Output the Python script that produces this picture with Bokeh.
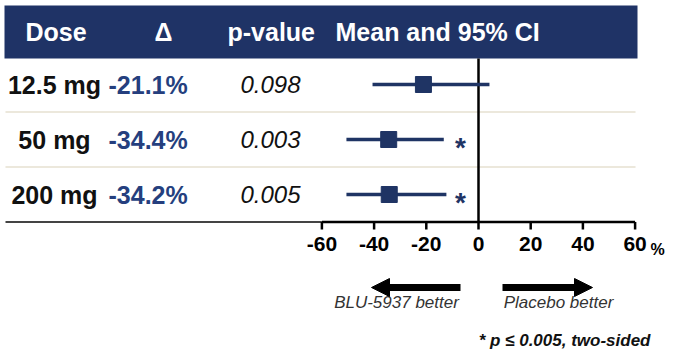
from bokeh.plotting import figure
from bokeh.models import Range1d, Arrow, NormalHead
from bokeh.core.properties import value
from bokeh.embed import file_html
from bokeh.resources import INLINE

# ---------------- data ----------------
doses = ["12.5 mg", "50 mg", "200 mg"]
delta_labels = ["-21.1%", "-34.4%", "-34.2%"]
p_labels = ["0.098", "0.003", "0.005"]
means = [-21.1, -34.4, -34.2]
ci_low = [-40.6, -50.6, -50.6]
ci_high = [4.2, -13.3, -12.3]
significant = [False, True, True]
ticks = [-60, -40, -20, 0, 20, 40, 60]
headers = ["Dose", "Δ", "p-value", "Mean and 95% CI"]
footnote = "* p ≤ 0.005, two-sided"
arrow_labels = ["BLU-5937 better", "Placebo better"]

# ---------------- layout helpers ----------------
W, H = 665, 354
PX_PER_UNIT = 2.61      # pixels per % unit
ZERO_PX = 478           # x of the 0 line
ROW0_PX = 84            # y of first row centre
ROW_STEP = 55           # pixels between rows


def X(px):
    return (px - ZERO_PX) / PX_PER_UNIT


def Y(py):
    return (py - ROW0_PX) / ROW_STEP


FONT = value("Liberation Sans")
NAVY = "#1f3366"
MARK = "#1f3464"
DELTA = "#253f7e"

rows = list(range(len(doses)))

p = figure(width=W, height=H, output_backend="svg", toolbar_location=None,
           x_range=Range1d(X(0), X(W)),
           y_range=Range1d(Y(H), Y(0)),
           x_axis_location=None, y_axis_location=None, min_border=0)
p.grid.visible = False
p.outline_line_color = None
p.background_fill_color = "white"
p.border_fill_color = "white"

# header band
p.quad(left=[X(4)], right=[X(637)], top=[Y(5)], bottom=[Y(58)],
       fill_color=NAVY, line_color=None)
hx = [X(25), X(154), X(227), X(335)]
p.text(x=hx, y=[Y(31)] * 4, text=headers, text_font=FONT,
       text_font_style="bold", text_font_size="25px", text_color="white",
       text_align="left", text_baseline="middle")

# row separators
sep_y = [r + 0.5 for r in rows[:-1]]
p.segment(x0=[X(5)] * len(sep_y), x1=[X(635)] * len(sep_y), y0=sep_y, y1=sep_y,
          line_color="#ece8dc", line_width=2)
base_y = rows[-1] + 0.5
p.segment(x0=[X(5)], x1=[ticks[0]], y0=[base_y], y1=[base_y],
          line_color="#444444", line_width=2)

# zero line
p.segment(x0=[0], x1=[0], y0=[Y(58)], y1=[base_y], line_color="black", line_width=2.5)

# axis
p.segment(x0=[ticks[0]], x1=[ticks[-1]], y0=[base_y], y1=[base_y],
          line_color="black", line_width=2.5)
p.segment(x0=ticks, x1=ticks, y0=[base_y] * len(ticks), y1=[Y(229)] * len(ticks),
          line_color="black", line_width=2.5)
p.text(x=ticks, y=[Y(243.5)] * len(ticks), text=[str(t) for t in ticks], text_font=FONT,
       text_font_style="bold", text_font_size="21px", text_color="black",
       text_align="center", text_baseline="middle")
p.text(x=[X(650)], y=[Y(248.5)], text=["%"], text_font=FONT,
       text_font_style="bold", text_font_size="16px", text_color="black",
       text_align="left", text_baseline="middle")

# table text
text_off = 0 / ROW_STEP
ty = [r + text_off for r in rows]
p.text(x=[X(54)] * 3, y=ty, text=doses, text_font=FONT, text_font_style="bold",
       text_font_size="25px", text_color="#111111", text_align="center",
       text_baseline="middle")
p.text(x=[X(108)] * 3, y=ty, text=delta_labels, text_font=FONT, text_font_style="bold",
       text_font_size="25px", text_color=DELTA, text_align="left",
       text_baseline="middle")
p.text(x=[X(270)] * 3, y=ty, text=p_labels, text_font=FONT, text_font_style="italic",
       text_font_size="24px", text_color="#111111", text_align="center",
       text_baseline="middle")

# forest marks
p.segment(x0=ci_low, x1=ci_high, y0=rows, y1=rows, line_color=MARK, line_width=3.5)
p.scatter(x=means, y=rows, marker="square", size=16, fill_color=MARK, line_color=MARK)

sig_rows = [r for r, s in zip(rows, significant) if s]
p.text(x=[X(460)] * len(sig_rows), y=[r + 7.5 / ROW_STEP for r in sig_rows],
       text=["*"] * len(sig_rows), text_font=FONT, text_font_style="bold",
       text_font_size="28px", text_color=MARK, text_align="center",
       text_baseline="middle")

# direction arrows
ay = Y(287)
p.add_layout(Arrow(end=NormalHead(size=18, fill_color="black", line_color="black"),
                   x_start=X(460), y_start=ay, x_end=X(371), y_end=ay,
                   line_width=7, line_color="black"))
p.add_layout(Arrow(end=NormalHead(size=18, fill_color="black", line_color="black"),
                   x_start=X(502), y_start=ay, x_end=X(592), y_end=ay,
                   line_width=7, line_color="black"))
p.text(x=[X(396), X(558)], y=[Y(302)] * 2, text=arrow_labels, text_font=FONT,
       text_font_style="italic", text_font_size="17px", text_color="#333333",
       text_align="center", text_baseline="middle")

# footnote
p.text(x=[X(650)], y=[Y(340)], text=[footnote], text_font=FONT,
       text_font_style="bold italic", text_font_size="17px", text_color="#111111",
       text_align="right", text_baseline="middle")

open("out.html", "w").write(file_html(p, INLINE))
